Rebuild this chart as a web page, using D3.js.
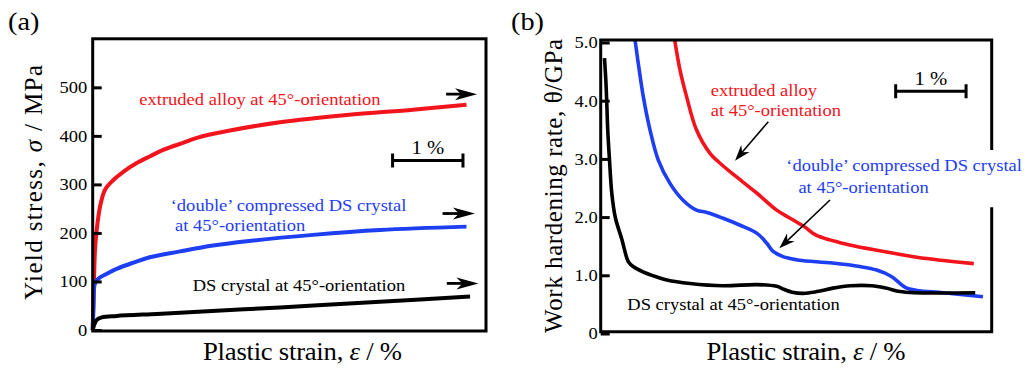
<!DOCTYPE html>
<html>
<head>
<meta charset="utf-8">
<script src="https://cdn.jsdelivr.net/npm/d3@7"></script>
<style>
  body { margin: 0; background: #fff; }
  svg { display: block; }
  svg text { font-family: "Liberation Serif", "Times New Roman", Times, serif; }
</style>
</head>
<body>
<svg id="chart" width="1031" height="372"></svg>
<script>
// ---- Data: [plastic strain (%), value] ----
// (a) yield stress, MPa
const extrudedStress = [[0,0],[0.01,60],[0.02,110],[0.033,165],[0.057,206],[0.104,254],[0.175,289],[0.293,309],[0.435,326],[0.625,344],[0.814,358],[1.0,371],[1.29,386],[1.48,396],[1.95,411],[2.66,428],[3.61,443],[4.55,454],[5.31,464]];
const doubleStress = [[0,0],[0.012,50],[0.025,92],[0.05,101],[0.1,108],[0.2,116],[0.34,126],[0.58,139],[0.81,150],[1.24,162],[1.71,174],[2.19,183],[3.13,196],[4.08,206],[5.31,213]];
const dsStress = [[0,0],[0.02,10],[0.057,21],[0.128,26],[0.34,29],[0.91,33],[1.24,35.5],[2.66,46.5],[4.08,58],[5.36,69]];

// (b) work hardening rate, GPa
const extrudedTheta = [[1.05,5.05],[1.126,4.53],[1.22,4.07],[1.36,3.50],[1.55,3.10],[1.72,2.90],[1.93,2.69],[2.22,2.41],[2.50,2.12],[2.69,1.98],[2.90,1.83],[3.06,1.69],[3.54,1.52],[4.02,1.41],[4.49,1.31],[4.90,1.25],[5.30,1.20]];
const doubleTheta = [[0.487,5.05],[0.534,4.64],[0.605,4.07],[0.70,3.50],[0.818,2.98],[0.984,2.58],[1.17,2.29],[1.36,2.12],[1.51,2.08],[1.74,1.98],[1.98,1.86],[2.22,1.72],[2.36,1.55],[2.45,1.41],[2.59,1.32],[2.69,1.29],[2.82,1.26],[3.29,1.21],[3.68,1.15],[3.92,1.09],[4.13,0.98],[4.33,0.79],[4.49,0.74],[4.87,0.70],[5.43,0.63]];
const dsTheta = [[0.054,4.73],[0.075,4.30],[0.088,3.90],[0.10,3.50],[0.125,2.98],[0.16,2.38],[0.21,1.98],[0.30,1.62],[0.37,1.30],[0.40,1.22],[0.46,1.15],[0.60,1.06],[0.80,0.97],[0.94,0.92],[1.27,0.86],[1.74,0.82],[2.22,0.84],[2.50,0.81],[2.60,0.76],[2.72,0.71],[2.88,0.69],[3.07,0.72],[3.30,0.78],[3.55,0.82],[3.85,0.82],[4.05,0.78],[4.25,0.72],[4.45,0.70],[5.32,0.70]];

// Axis ticks
const stressTicks = [0, 100, 200, 300, 400, 500];
const stressTickLabels = ["0", "100", "200", "300", "400", "500"];
const thetaTicks = [0, 1, 2, 3, 4, 5];
const thetaTickLabels = ["0", "1.0", "2.0", "3.0", "4.0", "5.0"];

// ---- Styling ----
const RED = "#f2141c", BLUE = "#1e3ef2", BLACK = "#000";
const SX = 1.09; // horizontal widening of the serif lettering

const svg = d3.select("#chart");

// ---- Scales ----
const xA = d3.scaleLinear().domain([0, 5.587]).range([92.7, 486]);
const yA = d3.scaleLinear().domain([0, 600]).range([330, 38.8]);
const xB = d3.scaleLinear().domain([0, 5.554]).range([600.7, 991.7]);
const yB = d3.scaleLinear().domain([0, 5]).range([333.5, 42.5]);

// Text helper: parts may be strings or {i: "..."} for italic runs
function txt(parent, x, y, parts, o = {}) {
  const t = parent.append("text")
    .attr("transform", `translate(${x},${y})` + (o.rotate ? ` rotate(${o.rotate})` : ` scale(${SX},1)`))
    .attr("font-size", o.size || 17)
    .attr("fill", o.fill || BLACK)
    .attr("text-anchor", o.anchor || "start");
  if (o.length) t.attr("textLength", o.length).attr("lengthAdjust", "spacing");
  (Array.isArray(parts) ? parts : [parts]).forEach(p => {
    if (typeof p === "string") t.append("tspan").text(p);
    else t.append("tspan").attr("font-style", "italic").text(p.i);
  });
  return t;
}

function styleAxis(g, pad) {
  g.attr("font-family", null).attr("font-size", 17);
  g.select(".domain").remove();
  g.selectAll(".tick line").attr("stroke", BLACK).attr("stroke-width", 3);
  g.selectAll(".tick text").attr("fill", BLACK)
    .attr("transform", `scale(${SX},1)`)
    .attr("x", -pad / SX);
}

// Thick arrow with notched head, pointing right
function bigArrow(g, x0, x1, y) {
  g.append("line").attr("x1", x0).attr("x2", x1 - 15).attr("y1", y).attr("y2", y)
    .attr("stroke", BLACK).attr("stroke-width", 2.8);
  g.append("path").attr("transform", `translate(${x1},${y})`)
    .attr("d", "M0,0 L-22,-6 L-16,0 L-22,6 Z").attr("fill", BLACK);
}

// Thin pointer arrow from (x0,y0) to tip (x1,y1)
function thinArrow(g, x0, y0, x1, y1) {
  const a = Math.atan2(y1 - y0, x1 - x0);
  const L = Math.hypot(x1 - x0, y1 - y0);
  const inner = g.append("g").attr("transform", `translate(${x1},${y1}) rotate(${a * 180 / Math.PI})`);
  inner.append("line").attr("x1", -L).attr("x2", -9).attr("y1", 0).attr("y2", 0)
    .attr("stroke", BLACK).attr("stroke-width", 1.5);
  inner.append("path").attr("d", "M0,0 L-16,-5.5 L-11,0 L-16,5.5 Z").attr("fill", BLACK);
}

function scaleBar(g, x0, x1, y) {
  g.append("path")
    .attr("d", `M${x0},${y} H${x1} M${x0},${y - 7} V${y + 7} M${x1},${y - 7} V${y + 7}`)
    .attr("stroke", BLACK).attr("stroke-width", 3).attr("fill", "none");
  txt(g, (x0 + x1) / 2, y - 6.5, "1 %", { size: 19, anchor: "middle" });
}

// =================== Panel (a): yield stress ===================
const gA = svg.append("g");

const lineA = d3.line().x(d => xA(d[0])).y(d => yA(d[1])).curve(d3.curveCatmullRom.alpha(0.5));

gA.append("path").datum(extrudedStress).attr("d", lineA)
  .attr("fill", "none").attr("stroke", RED).attr("stroke-width", 4);
gA.append("path").datum(doubleStress).attr("d", lineA)
  .attr("fill", "none").attr("stroke", BLUE).attr("stroke-width", 4);
gA.append("path").datum(dsStress).attr("d", lineA)
  .attr("fill", "none").attr("stroke", BLACK).attr("stroke-width", 4);

gA.append("g").attr("transform", `translate(${xA(0)},0)`)
  .call(d3.axisLeft(yA).tickValues(stressTicks)
    .tickFormat(d => stressTickLabels[stressTicks.indexOf(d)])
    .tickSizeInner(-9).tickSizeOuter(0).tickPadding(5))
  .call(g => styleAxis(g, 5.5));

gA.append("rect")
  .attr("x", xA.range()[0]).attr("y", yA.range()[1])
  .attr("width", xA.range()[1] - xA.range()[0])
  .attr("height", yA.range()[0] - yA.range()[1] + 1)
  .attr("fill", "none").attr("stroke", BLACK).attr("stroke-width", 3);

bigArrow(gA, xA(5.02), xA(5.46), yA(486));
bigArrow(gA, xA(4.97), xA(5.43), yA(240));
bigArrow(gA, xA(5.03), xA(5.48), yA(96));

scaleBar(gA, xA(4.26), xA(5.26), 160.5);

txt(gA, 139.3, 105, "extruded alloy at 45°-orientation", { fill: RED });
txt(gA, 170.7, 211, "‘double’ compressed DS crystal", { fill: BLUE });
txt(gA, 175, 230.5, "at 45°-orientation", { fill: BLUE });
txt(gA, 192.7, 291, "DS crystal at 45°-orientation");

txt(gA, 8, 29.5, "(a)", { size: 26 });
txt(gA, 42, 182.5, ["Yield stress, ", { i: "σ" }, " / MPa"], { size: 25, anchor: "middle", rotate: -90, length: 235 });
txt(gA, 302.5, 359.5, ["Plastic strain, ", { i: "ε" }, " / %"], { size: 24.5, anchor: "middle", length: 199 / SX });

// =================== Panel (b): work hardening rate ===================
const gB = svg.append("g");
const bx0 = 600.7, bx1 = 991.7, by0 = 40, by1 = 331.7;

svg.append("defs").append("clipPath").attr("id", "plotB")
  .append("rect").attr("x", bx0).attr("y", by0 + 1).attr("width", bx1 - bx0).attr("height", by1 - by0);

const lineB = d3.line().x(d => xB(d[0])).y(d => yB(d[1])).curve(d3.curveCatmullRom.alpha(0.5));
const curvesB = gB.append("g").attr("clip-path", "url(#plotB)");
curvesB.append("path").datum(extrudedTheta).attr("d", lineB)
  .attr("fill", "none").attr("stroke", RED).attr("stroke-width", 3.6);
curvesB.append("path").datum(doubleTheta).attr("d", lineB)
  .attr("fill", "none").attr("stroke", BLUE).attr("stroke-width", 3.6);
curvesB.append("path").datum(dsTheta).attr("d", lineB)
  .attr("fill", "none").attr("stroke", BLACK).attr("stroke-width", 3.6);

gB.append("g").attr("transform", `translate(${bx0},0)`)
  .call(d3.axisLeft(yB).tickValues(thetaTicks)
    .tickFormat(d => thetaTickLabels[thetaTicks.indexOf(d)])
    .tickSizeInner(-9).tickSizeOuter(0).tickPadding(3))
  .call(g => styleAxis(g, 3));

// frame, open on the right where the label crosses it
gB.append("path")
  .attr("d", `M${bx1},150 V${by0} H${bx0} V${by1} H${bx1} V207.3`)
  .attr("fill", "none").attr("stroke", BLACK).attr("stroke-width", 3);

scaleBar(gB, xB(4.19), xB(5.19), 91.3);

txt(gB, 710.7, 95.7, "extruded alloy", { fill: RED });
txt(gB, 710.7, 116.3, "at 45°-orientation", { fill: RED });
txt(gB, 786.3, 171, "‘double’ compressed DS crystal", { fill: BLUE });
txt(gB, 798.4, 193.3, "at 45°-orientation", { fill: BLUE });
txt(gB, 627.3, 310, "DS crystal at 45°-orientation");

thinArrow(gB, 768.3, 121.7, 735, 160.7);
thinArrow(gB, 830, 200, 779.3, 248.3);

txt(gB, 511, 29.5, "(b)", { size: 26 });
txt(gB, 561.6, 186, ["Work hardening rate, θ/GPa"], { size: 25, anchor: "middle", rotate: -90, length: 294 });
txt(gB, 806, 359.5, ["Plastic strain, ", { i: "ε" }, " / %"], { size: 24.5, anchor: "middle", length: 199 / SX });
</script>
</body>
</html>
